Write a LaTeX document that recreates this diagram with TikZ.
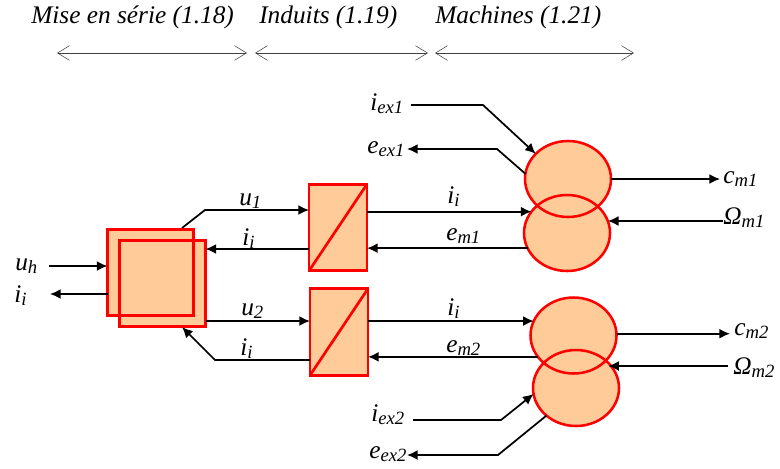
\documentclass[tikz,border=0pt]{standalone}
\usepackage{fontspec}
\setmainfont{Liberation Serif}
\usetikzlibrary{shapes.geometric,arrows.meta,positioning}
\pgfdeclarelayer{background}
\pgfsetlayers{background,main}
\definecolor{peach}{HTML}{FFCC99}
\newcommand{\lbl}[2]{\textit{#1}\raisebox{-2.6pt}{\fontsize{14}{15}\selectfont\itshape #2}}
\tikzset{
  flow/.style={-{Latex[length=8pt,width=7.5pt]},line width=1.3pt,line join=round},
  span/.style={{Straight Barb[length=9pt,width=11pt]}-{Straight Barb[length=9pt,width=11pt]},line width=.4pt,color=black!75},
  lab/.style={anchor=base west,inner sep=0pt,font=\fontsize{19}{21}\selectfont},
  title/.style={anchor=base west,inner sep=0pt,font=\fontsize{19}{21}\selectfont\itshape},
  conv/.style={draw=red,line width=2.1pt,minimum width=#1,inner sep=0pt,outer sep=0pt},
  mach/.style={draw=red,line width=1.9pt,ellipse,minimum width=64.5pt,minimum height=57pt,inner sep=0pt,outer sep=0pt}
}
\begin{document}
\begin{tikzpicture}[x=.75pt,y=-.75pt]
\useasboundingbox (0,0) rectangle (780,468);

%Titles
\node[title] (titlea) at (31,23) {Mise en série (1.18)};
\node[title] (titleb) at (259,23) {Induits (1.19)};
\node[title] (titlec) at (435,23) {Machines (1.21)};
\coordinate (spana) at (57,53);
\coordinate (spanb) at (247,53);
\coordinate (spanc) at (255,53);
\coordinate (spand) at (428,53);
\coordinate (spane) at (435,53);
\coordinate (spanf) at (634,53);
\draw[span] (spana) -- (spanb);
\draw[span] (spanc) -- (spand);
\draw[span] (spane) -- (spanf);

%Converters
\node[conv=64.5pt,minimum height=64.5pt] (sqa) at (150.5,272.5) {};
\node[conv=64.5pt,minimum height=64.5pt] (sqb) at (162.5,283.5) {};
\node[conv=43.5pt,minimum height=65pt] (boxa) at (338,227.5) {};
\node[conv=43.5pt,minimum height=65pt] (boxb) at (339,332) {};
\draw[red,line width=2pt] (boxa.south west) -- (boxa.north east);
\draw[red,line width=2pt] (boxb.south west) -- (boxb.north east);

%Machines
\node[mach] (mea) at (568,179) {};
\node[mach] (meb) at (567,233) {};
\node[mach] (mfa) at (573.5,335.5) {};
\node[mach] (mfb) at (576,388) {};

\begin{pgfonlayer}{background}
\foreach \n in {sqa,sqb,boxa,boxb}
\fill[peach] (\n.south west) rectangle (\n.north east);
\foreach \n in {mea,meb,mfa,mfb}
\fill[peach] (\n) ellipse (43 and 38);
\end{pgfonlayer}

%Left side
\node[lab] (uh) at (15,270) {\lbl{u}{h}};
\node[lab] (ih) at (14,302) {\lbl{i}{i}};
\coordinate (uhs) at (49,266);
\coordinate (ihe) at (50,294);
\draw[flow] (uhs) -- (sqa.west |- uhs);
\draw[flow] (sqa.west |- ihe) -- (ihe);

%Upper branch
\node[lab] (ua) at (239,205) {\lbl{u}{1}};
\node[lab] (ia) at (242,245) {\lbl{i}{i}};
\node[lab] (ib) at (447,203) {\lbl{i}{i}};
\node[lab] (ema) at (446,240) {\lbl{e}{m1}};
\coordinate (uas) at (182,228);
\coordinate (uab) at (205,210);
\coordinate (iay) at (300,249);
\draw[flow] (uas) -- (uab) -- (boxa.west |- uab);
\draw[flow] (boxa.west |- iay) -- (sqb.east |- iay);
\draw[flow] (boxa.east |- meb.149) -- (meb.149);
\draw[flow] (meb.201) -- (boxa.east |- meb.201);

%Lower branch
\node[lab] (ub) at (241,315) {\lbl{u}{2}};
\node[lab] (ic) at (240,355) {\lbl{i}{i}};
\node[lab] (id) at (447,315) {\lbl{i}{i}};
\node[lab] (emb) at (446,352) {\lbl{e}{m2}};
\coordinate (uby) at (300,321);
\coordinate (icb) at (215,360);
\coordinate (ice) at (182,327);
\draw[flow] (sqb.east |- uby) -- (boxb.west |- uby);
\draw[flow] (boxb.west |- icb) -- (icb) -- (ice);
\draw[flow] (boxb.east |- mfa.160) -- (mfa.160);
\draw[flow] (mfa.211) -- (boxb.east |- mfa.211);

%Excitation 1
\node[lab] (iexa) at (370,110) {\lbl{i}{ex1}};
\node[lab] (eexa) at (367,153) {\lbl{e}{ex1}};
\coordinate (iexas) at (411,105);
\coordinate (iexab) at (483,105);
\coordinate (eexab) at (497,149);
\coordinate (eexae) at (407,149);
\draw[flow] (iexas) -- (iexab) -- (mea.142);
\draw[flow] (mea.173) -- (eexab) -- (eexae);

%Excitation 2
\node[lab] (iexb) at (371,421) {\lbl{i}{ex2}};
\node[lab] (eexb) at (369,458) {\lbl{e}{ex2}};
\coordinate (iexbs) at (413,420);
\coordinate (iexbb) at (501,420);
\coordinate (eexbb) at (498,455);
\coordinate (eexbe) at (407,455);
\draw[flow] (iexbs) -- (iexbb) -- (mfb.188);
\draw[flow] (mfb.223) -- (eexbb) -- (eexbe);

%Outputs
\node[lab] (cma) at (723,183) {\lbl{c}{m1}};
\node[lab] (oma) at (723,224) {\lbl{Ω}{m1}};
\node[lab] (cmb) at (734,335) {\lbl{c}{m2}};
\node[lab] (omb) at (733,374) {\lbl{Ω}{m2}};
\coordinate (cmae) at (720,179);
\coordinate (omas) at (723,221);
\coordinate (cmbe) at (730,333.7);
\coordinate (ombs) at (728,366);
\draw[flow] (mea.east) -- (mea.east -| cmae);
\draw[flow] (omas) -- (meb.16 |- omas);
\draw[flow] (mfa.east |- cmbe) -- (cmbe);
\draw[flow] (ombs) -- (mfb.38 |- ombs);

\end{tikzpicture}
\end{document}
